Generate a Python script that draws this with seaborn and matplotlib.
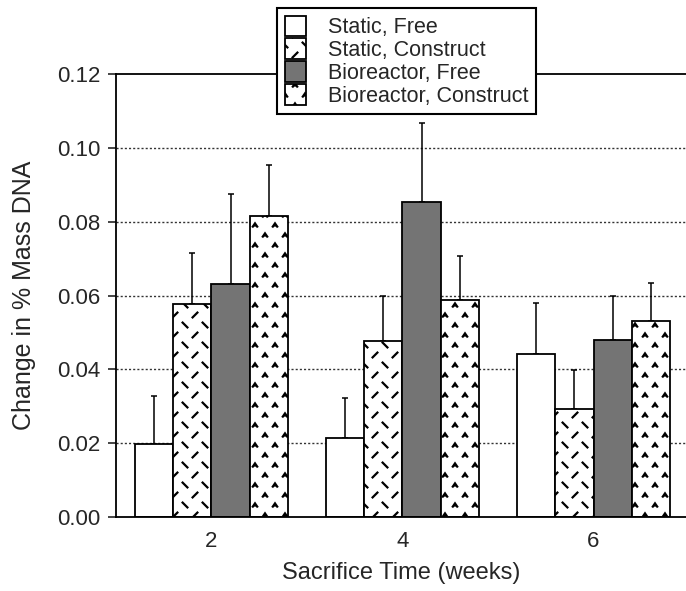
import numpy as np
import pandas as pd
import matplotlib
matplotlib.use("Agg")
import matplotlib.pyplot as plt
import matplotlib.hatch as mhatch
from matplotlib.path import Path
from matplotlib.ticker import FormatStrFormatter
import seaborn as sns

# ---------------- data ----------------
weeks = ["2", "4", "6"]
groups = ["Static, Free", "Static, Construct", "Bioreactor, Free", "Bioreactor, Construct"]
static_free = [0.0199, 0.0213, 0.0441]
static_free_err = [0.0130, 0.0110, 0.0139]
static_construct = [0.0576, 0.0478, 0.0292]
static_construct_err = [0.0138, 0.0120, 0.0106]
bio_free = [0.0631, 0.0852, 0.0479]
bio_free_err = [0.0243, 0.0214, 0.0121]
bio_construct = [0.0815, 0.0589, 0.0532]
bio_construct_err = [0.0138, 0.0119, 0.0101]

values = [static_free, static_construct, bio_free, bio_construct]
errors = [static_free_err, static_construct_err, bio_free_err, bio_construct_err]

df = pd.DataFrame({
    "week": [w for _ in groups for w in weeks],
    "group": [g for g in groups for _ in weeks],
    "value": [v for vals in values for v in vals],
})

# ---------------- custom hatch patterns ----------------
class DashHatch(mhatch.HatchPatternBase):
    """Staggered short dashes '/' and '\\' (triggered by 'o')."""
    def __init__(self, hatch, density):
        self.n = 5 if hatch.count("o") > 0 else 0
        self.num_vertices = self.n * self.n * 4

    def set_vertices_and_codes(self, vertices, codes):
        cell = 1.0 / self.n
        d = 0.12 * cell
        i = 0
        for r in range(self.n):
            for c in range(self.n):
                x0, y0 = c * cell, r * cell
                cx, cy = x0 + 0.75 * cell, y0 + 0.25 * cell
                vertices[i] = (cx - d, cy - d); codes[i] = Path.MOVETO
                vertices[i + 1] = (cx + d, cy + d); codes[i + 1] = Path.LINETO
                cx, cy = x0 + 0.25 * cell, y0 + 0.75 * cell
                vertices[i + 2] = (cx - d, cy + d); codes[i + 2] = Path.MOVETO
                vertices[i + 3] = (cx + d, cy - d); codes[i + 3] = Path.LINETO
                i += 4


class CaretHatch(mhatch.HatchPatternBase):
    """Staggered small carets '^' (triggered by 'O')."""
    def __init__(self, hatch, density):
        self.n = 5 if hatch.count("O") > 0 else 0
        self.num_vertices = self.n * self.n * 6

    def set_vertices_and_codes(self, vertices, codes):
        cell = 1.0 / self.n
        dx = 0.11 * cell
        dy = 0.08 * cell
        i = 0
        for r in range(self.n):
            for c in range(self.n):
                x0, y0 = c * cell, r * cell
                for fx, fy in ((0.25, 0.25), (0.75, 0.75)):
                    cx, cy = x0 + fx * cell, y0 + fy * cell
                    vertices[i] = (cx - dx, cy - dy); codes[i] = Path.MOVETO
                    vertices[i + 1] = (cx, cy + dy); codes[i + 1] = Path.LINETO
                    vertices[i + 2] = (cx + dx, cy - dy); codes[i + 2] = Path.LINETO
                    i += 3


mhatch._hatch_types = [DashHatch, CaretHatch]

# ---------------- style ----------------
sns.set_style("white")
plt.rcParams["font.family"] = ["Liberation Sans", "DejaVu Sans"]
plt.rcParams["hatch.linewidth"] = 1.6
plt.rcParams["hatch.color"] = "black"

colors = ["white", "white", "#747474", "white"]
hatches = ["", "o", "", "O"]

fig, ax = plt.subplots(figsize=(6.86, 5.91), dpi=100)
fig.subplots_adjust(left=0.169, right=1.0, bottom=0.1252, top=0.8748)

sns.barplot(data=df, x="week", y="value", hue="group", hue_order=groups,
            order=weeks, palette=colors, saturation=1, errorbar=None,
            width=0.8, gap=0, edgecolor="black", linewidth=1.3,
            legend=False, ax=ax, zorder=2)

bar_containers = list(ax.containers)
for cont, h, errs in zip(bar_containers, hatches, errors):
    xs = [b.get_x() + b.get_width() / 2 for b in cont]
    hs = [b.get_height() for b in cont]
    for b in cont:
        b.set_hatch(h)
    ax.errorbar(xs, hs, yerr=[np.zeros(len(errs)), errs], fmt="none",
                ecolor="black", elinewidth=1.1, capsize=2.5, capthick=1.1,
                zorder=1)

ax.set_xlim(-0.5, 2.484)
ax.set_ylim(0, 0.12)
ax.set_yticks(np.arange(0, 0.121, 0.02))
ax.yaxis.set_major_formatter(FormatStrFormatter("%.2f"))
for y in np.arange(0.02, 0.101, 0.02):
    ax.axhline(y, color="#333333", linestyle=(0, (1.5, 1.5)), linewidth=1.0, zorder=0)

ax.tick_params(axis="y", direction="out", length=6, width=1.2, labelsize=16, pad=5, left=True)
ax.tick_params(axis="x", length=0, labelsize=16, pad=10)

for side in ["left", "bottom", "top"]:
    ax.spines[side].set_visible(True)
    ax.spines[side].set_color("black")
    ax.spines[side].set_linewidth(1.3)
ax.spines["right"].set_visible(False)

ax.set_xlabel("Sacrifice Time (weeks)", fontsize=17, labelpad=7)
ax.set_ylabel("Change in % Mass DNA", fontsize=18, labelpad=15)

handles = [cont.patches[0] for cont in bar_containers]
leg = ax.legend(handles, groups, loc="upper center", bbox_to_anchor=(0.51, 1.149),
                borderaxespad=0, fancybox=False, framealpha=1, fontsize=15.5,
                handlelength=1.0, handleheight=1.12, labelspacing=0.0,
                handletextpad=1.0, borderpad=0.35, edgecolor="black")
leg.get_frame().set_linewidth(1.5)
leg.set_zorder(5)

fig.savefig("out.png", dpi=100)
